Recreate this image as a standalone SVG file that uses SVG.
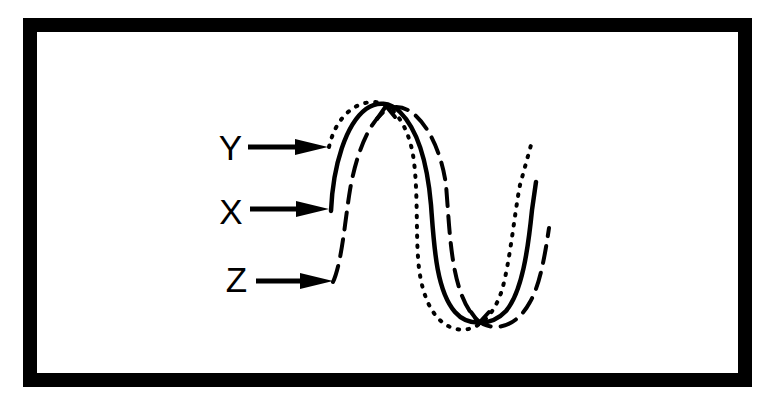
<svg xmlns="http://www.w3.org/2000/svg" width="772" height="410" viewBox="0 0 772 410">
<style>
.lbl{font-family:"Liberation Sans",Arial,sans-serif;font-size:35px;fill:#000;text-anchor:middle}
.shaft{stroke:#000;stroke-width:5;fill:none;marker-end:url(#head)}
.c{fill:none;stroke:#000;stroke-width:4;stroke-linecap:round;stroke-linejoin:round}
.solid{stroke-width:4.5}
.dot{stroke-dasharray:1.5 8.5}
.dash{stroke-dasharray:17 10}
</style>
<defs>
<marker id="head" markerUnits="userSpaceOnUse" markerWidth="34" markerHeight="16" viewBox="0 0 34 16" refX="1" refY="8" orient="auto">
<path d="M0,0 L33,8 L0,16 z" fill="#000"/>
</marker>
</defs>
<rect x="30" y="25" width="715" height="355" fill="#fff" stroke="#000" stroke-width="14"/>
<g id="curve-x">
<path class="c solid" d="M331,211 C333,165 346,124 366,109 C377,101 390,102 400,112 C420,132 428,170 431,205 C434,245 436,290 455,312 C468,327 492,326 506,311 C522,292 528,250 532,210 L536,182"/>
<path class="c" d="M377,119 L386,106 L395,117"/>
<path class="c" d="M471,312 L479,323 L489,312"/>
</g>
<g id="curve-y">
<path class="c dot" d="M329,147 C335,120 352,103 372,102 C392,101 408,125 413,155 C418,185 416,230 418,257 C420,290 430,318 450,327 C470,336 492,322 502,290 C510,262 515,210 520,185 L531,145"/>
</g>
<g id="curve-z">
<path class="c dash" d="M333,282 C342,262 345,220 350,190 C355,160 368,118 390,108 C415,100 440,140 446,185 C450,230 450,290 475,318 C490,333 515,330 530,302 C540,285 545,255 549,228"/>
</g>
<g id="label-y"><text class="lbl" x="230.5" y="160">Y</text></g>
<g id="label-x"><text class="lbl" x="231" y="224">X</text></g>
<g id="label-z"><text class="lbl" x="236.5" y="292">Z</text></g>
<g id="connectors">
<line class="shaft" x1="248" y1="147" x2="296" y2="147"/>
<line class="shaft" x1="250" y1="209" x2="297" y2="209"/>
<line class="shaft" x1="256" y1="281" x2="301" y2="281"/>
</g>
</svg>
